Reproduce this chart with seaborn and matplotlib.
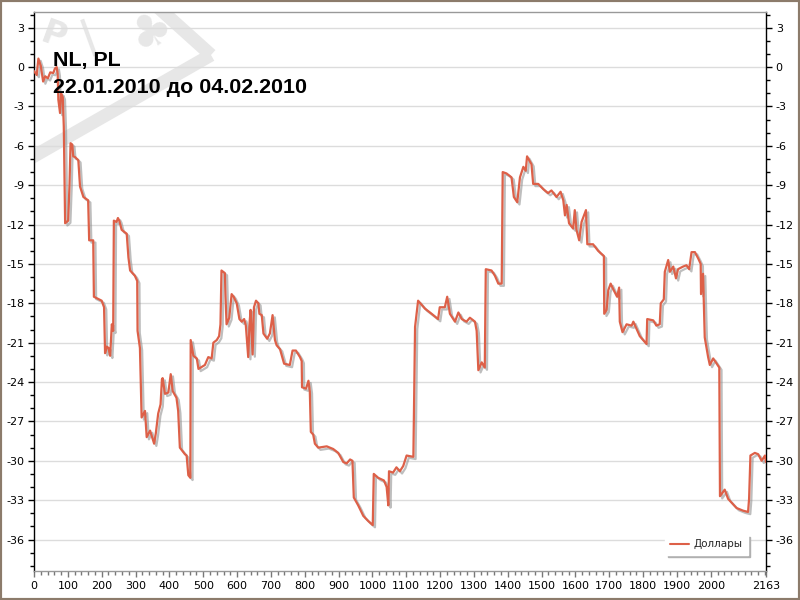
import numpy as np
import pandas as pd
import matplotlib
matplotlib.use("Agg")
import matplotlib.pyplot as plt
import matplotlib.patheffects as pe
from matplotlib.patches import Polygon, Rectangle
from matplotlib.ticker import MultipleLocator, FixedLocator
import seaborn as sns

# ---------------- data ----------------
trade_no = [0, 8, 13, 20, 27, 33, 41, 48, 57, 62, 67, 70, 72, 77, 80, 85, 88, 92, 101, 105,
            108, 113, 116, 121, 131, 136, 146, 160, 163, 175, 177, 200, 207, 210, 215, 220, 225, 230, 234, 236,
            244, 248, 252, 259, 274, 279, 284, 298, 305, 306, 313, 318, 328, 333, 343, 355, 360, 367, 374, 378,
            380, 387, 397, 404, 410, 421, 426, 431, 446, 451, 456, 462, 463, 471, 481, 486, 505, 515, 525, 530,
            540, 547, 551, 554, 564, 566, 569, 577, 584, 590, 599, 607, 614, 621, 626, 633, 637, 640, 646, 650,
            656, 663, 666, 673, 678, 689, 697, 705, 712, 717, 727, 739, 756, 764, 774, 786, 791, 792, 804, 811,
            815, 818, 825, 830, 840, 865, 884, 899, 914, 924, 934, 941, 945, 958, 973, 988, 1001, 1004, 1017, 1034,
            1042, 1047, 1049, 1061, 1071, 1081, 1091, 1101, 1121, 1124, 1126, 1135, 1155, 1175, 1194, 1199, 1214, 1221, 1229, 1244,
            1254, 1264, 1278, 1288, 1303, 1308, 1313, 1323, 1332, 1335, 1352, 1362, 1372, 1382, 1385, 1396, 1411, 1418, 1428, 1436,
            1446, 1453, 1457, 1470, 1475, 1490, 1505, 1519, 1529, 1544, 1556, 1564, 1569, 1574, 1581, 1593, 1598, 1603, 1611, 1618,
            1631, 1635, 1652, 1667, 1684, 1685, 1692, 1697, 1704, 1713, 1723, 1729, 1731, 1739, 1751, 1766, 1771, 1790, 1810, 1812,
            1830, 1839, 1849, 1852, 1861, 1864, 1874, 1879, 1889, 1897, 1903, 1918, 1928, 1936, 1943, 1953, 1963, 1970, 1971, 1977,
            1982, 1992, 1997, 2007, 2025, 2027, 2041, 2051, 2076, 2095, 2110, 2113, 2117, 2130, 2140, 2150, 2160, 2163]
dollars = [-0.3, -0.6, 0.65, 0.1, -1.1, -0.7, -0.85, -0.4, -0.45, -0.1, 0.0, -0.5, -2.5, -3.5, -2.0, -2.3, -4.5, -11.9, -11.7, -8.9,
           -5.8, -5.9, -6.8, -6.85, -7.1, -9.1, -9.9, -10.15, -13.2, -13.2, -17.5, -17.8, -18.3, -21.8, -21.3, -21.4, -22.0, -19.6, -20.1, -11.7,
           -11.8, -11.5, -11.7, -12.4, -12.7, -14.5, -15.5, -15.9, -16.3, -20.1, -21.4, -26.7, -26.2, -28.2, -27.7, -28.7, -27.9, -26.4, -25.7, -23.8,
           -23.7, -24.9, -24.8, -23.4, -24.7, -25.2, -26.2, -29.0, -29.5, -29.6, -31.1, -31.3, -20.8, -22.0, -22.2, -23.0, -22.7, -22.1, -22.2, -21.0,
           -20.8, -20.5, -19.6, -15.5, -15.7, -17.5, -19.6, -19.1, -17.3, -17.5, -18.0, -19.2, -19.4, -19.2, -19.7, -22.1, -19.5, -18.5, -21.9, -18.3,
           -17.8, -18.0, -18.8, -18.9, -20.3, -20.7, -20.3, -18.9, -20.8, -21.2, -21.5, -22.6, -22.7, -21.6, -21.6, -22.1, -22.4, -24.4, -24.5, -23.9,
           -24.7, -27.8, -28.0, -28.7, -29.0, -28.9, -29.1, -29.4, -30.1, -30.2, -29.9, -30.0, -32.8, -33.4, -34.2, -34.6, -34.9, -31.0, -31.3, -31.5,
           -32.0, -33.4, -30.8, -30.9, -30.5, -30.8, -30.4, -29.6, -29.7, -24.0, -19.8, -17.8, -18.4, -18.8, -19.2, -18.3, -18.3, -17.5, -18.8, -19.4,
           -18.7, -19.2, -19.4, -19.1, -19.4, -20.1, -23.1, -22.5, -22.9, -15.4, -15.5, -15.9, -16.5, -16.5, -8.0, -8.1, -8.4, -9.9, -10.3, -8.4,
           -7.6, -7.9, -6.8, -7.4, -8.9, -8.9, -9.3, -9.6, -9.4, -9.9, -9.5, -10.15, -11.3, -10.5, -11.9, -12.3, -10.9, -12.4, -13.2, -11.8,
           -10.9, -13.5, -13.5, -14.0, -14.4, -18.8, -18.5, -17.0, -16.5, -17.0, -17.5, -16.8, -19.4, -20.2, -19.6, -19.7, -19.4, -20.5, -21.1, -19.2,
           -19.3, -19.7, -19.6, -18.0, -17.7, -15.6, -14.7, -15.6, -15.2, -16.1, -15.4, -15.2, -15.1, -15.4, -14.1, -14.1, -14.6, -15.0, -17.3, -15.75,
           -20.6, -22.1, -22.7, -22.2, -22.9, -32.7, -32.2, -32.9, -33.6, -33.8, -33.9, -32.9, -29.6, -29.4, -29.5, -30.0, -29.6, -30.1]
series_name = "Доллары"
title_line1 = "NL, PL"
title_line2 = "22.01.2010 до 04.02.2010"
x_tick_values = [0, 100, 200, 300, 400, 500, 600, 700, 800, 900, 1000, 1100, 1200,
                 1300, 1400, 1500, 1600, 1700, 1800, 1900, 2000, 2163]
y_tick_values = [3, 0, -3, -6, -9, -12, -15, -18, -21, -24, -27, -30, -33, -36]

df = pd.DataFrame({"trade": trade_no, "value": dollars, "series": series_name})

# ---------------- style ----------------
sns.set_theme(style="white")
plt.rcParams["font.family"] = ["DejaVu Sans"]

fig = plt.figure(figsize=(8, 6), dpi=100)
fig.patch.set_facecolor("white")
ax = fig.add_axes([34 / 800, 1 - 571 / 600, 732 / 800, 559 / 600])
ax.set_facecolor("white")

# watermark (decorative, figure-pixel placement)
def fp(px, py):
    return (px / 800, 1 - py / 600)

wm = "#e7e7e7"
shape = Polygon([fp(211, 55), fp(121, -26), fp(-120, 20), fp(-20, 187)],
                closed=True, fill=False, edgecolor=wm, linewidth=9.5,
                transform=fig.transFigure, zorder=0.5)
ax.add_patch(shape)
shape.set_clip_path(ax.patch)
ax.text(*fp(150, 35), r"$\clubsuit$", transform=fig.transFigure, fontsize=34, color=wm,
        rotation=35, ha="center", va="center", zorder=0.5, clip_on=False)
ax.text(*fp(54, 36), "P", transform=fig.transFigure, fontsize=24, color=wm,
        rotation=-20, ha="center", va="center", zorder=0.5, clip_on=False, fontweight="bold")
ax.text(*fp(88, 36), "|", transform=fig.transFigure, fontsize=28, color=wm,
        rotation=20, ha="center", va="center", zorder=0.5, clip_on=False, fontweight="bold")

# line
sns.lineplot(data=df, x="trade", y="value", hue="series", palette=["#dd6048"],
             linewidth=1.6, estimator=None, sort=False, ax=ax, zorder=3)
line = ax.get_lines()[0]
line.set_path_effects([pe.SimpleLineShadow(offset=(1.6, -1.6), shadow_color="#8a8a8a", alpha=0.55),
                       pe.Normal()])

ax.set_xlim(0, 2163)
ax.set_ylim(-38.4, 4.2)
ax.set_xlabel("")
ax.set_ylabel("")

ax.xaxis.set_major_locator(FixedLocator(x_tick_values))
ax.xaxis.set_minor_locator(MultipleLocator(20))
ax.yaxis.set_major_locator(FixedLocator(y_tick_values))
ax.yaxis.set_minor_locator(MultipleLocator(1))
ax.set_yticklabels([str(v) for v in y_tick_values])

ax.grid(axis="y", which="major", color="#dcdcdc", linewidth=1)
ax.set_axisbelow(True)

ax.tick_params(axis="y", which="both", left=True, right=True, labelleft=True, labelright=True,
               direction="out", colors="black", labelsize=8, pad=3)
ax.tick_params(axis="y", which="major", length=4, width=1)
ax.tick_params(axis="y", which="minor", length=3, width=1)
ax.tick_params(axis="x", which="both", bottom=True, direction="out", color="#777777",
               labelcolor="black", labelsize=8, pad=3)
ax.tick_params(axis="x", which="major", length=4, width=1)
ax.tick_params(axis="x", which="minor", length=3, width=1)

for side in ["left", "right"]:
    ax.spines[side].set_color("black")
    ax.spines[side].set_linewidth(1)
for side in ["top", "bottom"]:
    ax.spines[side].set_color("#999999")
    ax.spines[side].set_linewidth(1)

# title inside the plot
ax.text(*fp(53, 66), title_line1, transform=fig.transFigure, fontsize=15.4,
        fontweight="bold", family=["Liberation Sans", "DejaVu Sans"], color="black",
        ha="left", va="baseline", zorder=5)
ax.text(*fp(53, 93), title_line2, transform=fig.transFigure, fontsize=15.4,
        fontweight="bold", family=["Liberation Sans", "DejaVu Sans"], color="black",
        ha="left", va="baseline", zorder=5)

# legend
handles, labels = ax.get_legend_handles_labels()
leg = ax.legend(handles, labels, loc="lower right", bbox_to_anchor=(0.982, 0.02),
                frameon=True, fancybox=False, shadow={"color": "#b0b0b0", "alpha": 1.0},
                fontsize=7.5, handlelength=1.8, borderpad=0.5, handletextpad=0.4)
leg.get_frame().set_edgecolor("white")
leg.get_frame().set_facecolor("white")
leg.get_frame().set_alpha(1.0)
for lh in leg.get_lines():
    lh.set_linewidth(1.5)
    lh.set_path_effects([])

# outer border
fig.patches.append(Rectangle((0, 0), 1, 1, transform=fig.transFigure, fill=False,
                             edgecolor="#8c7b6b", linewidth=3, zorder=10))

fig.savefig("out.png", dpi=100, facecolor="white")
